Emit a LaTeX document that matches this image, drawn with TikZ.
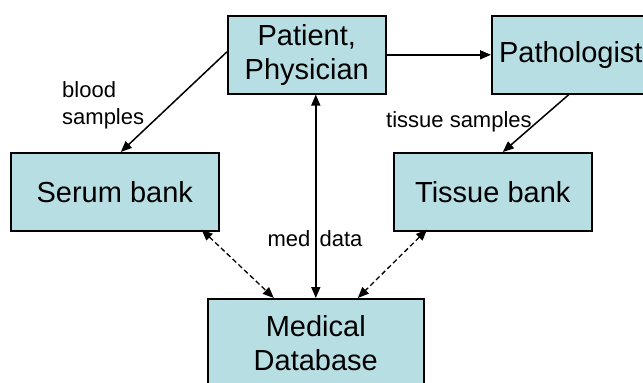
\documentclass[tikz,border=0pt]{standalone}
\usepackage{fontspec}
\setmainfont{Liberation Sans}
\usepackage{tikz}
\usetikzlibrary{arrows.meta}
\usetikzlibrary{positioning}
\definecolor{boxfill}{RGB}{182,222,227}
\newcommand{\bigfont}{\fontsize{29}{34}\selectfont}
\newcommand{\smallfont}{\fontsize{22}{27}\selectfont}

\begin{document}
\begin{tikzpicture}[
      x=1pt,y=-1pt,
      entity/.style={draw=black,line width=1.6pt,fill=boxfill,minimum width=158pt,minimum height=78pt,align=center,font=\bigfont,inner sep=0pt},
      lbl/.style={font=\smallfont,inner sep=0pt,align=left},
      link/.style={draw=black,line width=1.5pt,-{Triangle[length=11pt,width=9pt]}},
      dlink/.style={draw=black,line width=1.3pt,dash pattern=on 5pt off 3pt,{Triangle[length=11pt,width=9pt]}-{Triangle[length=11pt,width=9pt]}}
    ]

    \useasboundingbox (0,0) rectangle (643,383);
    \clip (0,0) rectangle (643,383);

    \node[entity,anchor=north west] (patient) at (227,15) {Patient,\\Physician};
    \node[entity,anchor=north west] (patho) at (491,15) {Pathologist};
    \node[entity,anchor=north west,minimum width=208pt] (serum) at (10,152) {Serum bank};
    \node[entity,anchor=north west,minimum width=198pt] (tissue) at (393,152) {Tissue bank};
    \node[entity,anchor=north west,minimum width=216pt,minimum height=88pt] (meddb) at (207,298) {Medical\\Database};

    \node[lbl,anchor=west] (lblblood) at (62,105) {blood\\samples};
    \node[lbl,anchor=west] (lbltissue) at (386,122) {tissue samples};
    \node[lbl] (lblmed) at (315,239) {med\hspace{3pt} data};

    \path[link] (patient.east) -- (patho.west);
    \path[link] ([yshift=3pt]patient.west) -- ([xshift=6pt]serum.north);
    \path[link] ([xshift=-2pt]patho.south) -- ([xshift=10pt]tissue.north);
    \path[link,{Triangle[length=11pt,width=9pt]}-{Triangle[length=11pt,width=9pt]}] (meddb.north) -- (meddb.north |- patient.south);
    \path[dlink] ([xshift=-18pt,yshift=2pt]serum.south east) -- ([xshift=-42pt]meddb.north);
    \path[dlink] ([xshift=34pt,yshift=2pt]tissue.south west) -- ([xshift=42pt]meddb.north);
  \end{tikzpicture}
\end{document}
